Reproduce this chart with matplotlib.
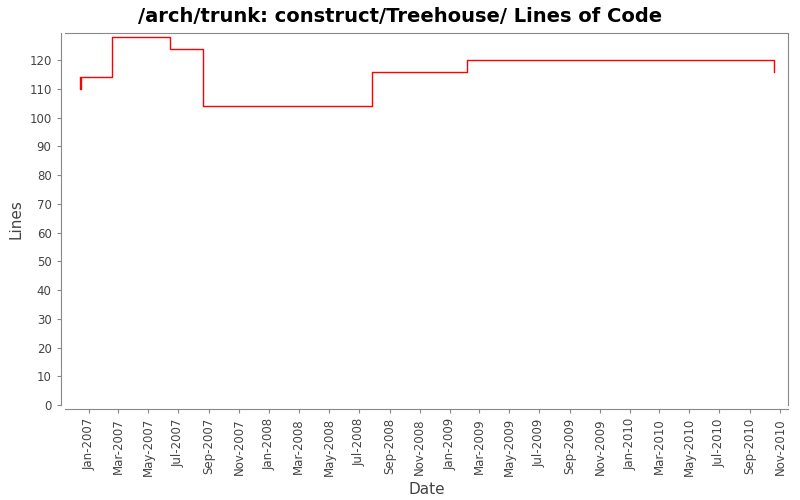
import matplotlib
matplotlib.use("Agg")
import matplotlib.pyplot as plt
import matplotlib.dates as mdates
import numpy as np

dates = ["2006-12-13", "2006-12-14", "2006-12-16", "2007-02-17", "2007-06-14",
         "2007-08-20", "2008-07-27", "2009-02-05", "2010-10-20", "2010-10-21"]
lines = [114, 110, 114, 128, 124, 104, 116, 120, 116, 116]

x = np.array(dates, dtype="datetime64[D]")

fig = plt.figure(figsize=(8, 5), dpi=100)
ax = fig.add_axes([0.081, 0.19, 0.904, 0.744])
ax.step(x[:-1], lines[:-1], where="post", color="red", lw=1)

ax.set_xlim(np.datetime64("2006-11-13"), np.datetime64("2010-11-17"))
ax.set_ylim(0, 129.4)
ax.set_yticks(range(0, 121, 10))
ax.xaxis.set_major_locator(mdates.MonthLocator(bymonth=[1, 3, 5, 7, 9, 11]))
ax.xaxis.set_major_formatter(mdates.DateFormatter("%b-%Y"))
for s in ax.spines.values():
    s.set_color("#888888")
ax.spines["left"].set_position(("outward", 3))
ax.spines["bottom"].set_position(("outward", 3))
ax.tick_params(color="#888888", labelcolor="#444444", length=3, labelsize=8.5)
ax.tick_params(axis="x", labelrotation=90)
ax.set_xlabel("Date", fontsize=11, color="#444444")
ax.set_ylabel("Lines", fontsize=11, color="#444444")
fig.suptitle("/arch/trunk: construct/Treehouse/ Lines of Code", fontsize=14,
             fontweight="bold", y=0.985)
fig.savefig("out.png")
